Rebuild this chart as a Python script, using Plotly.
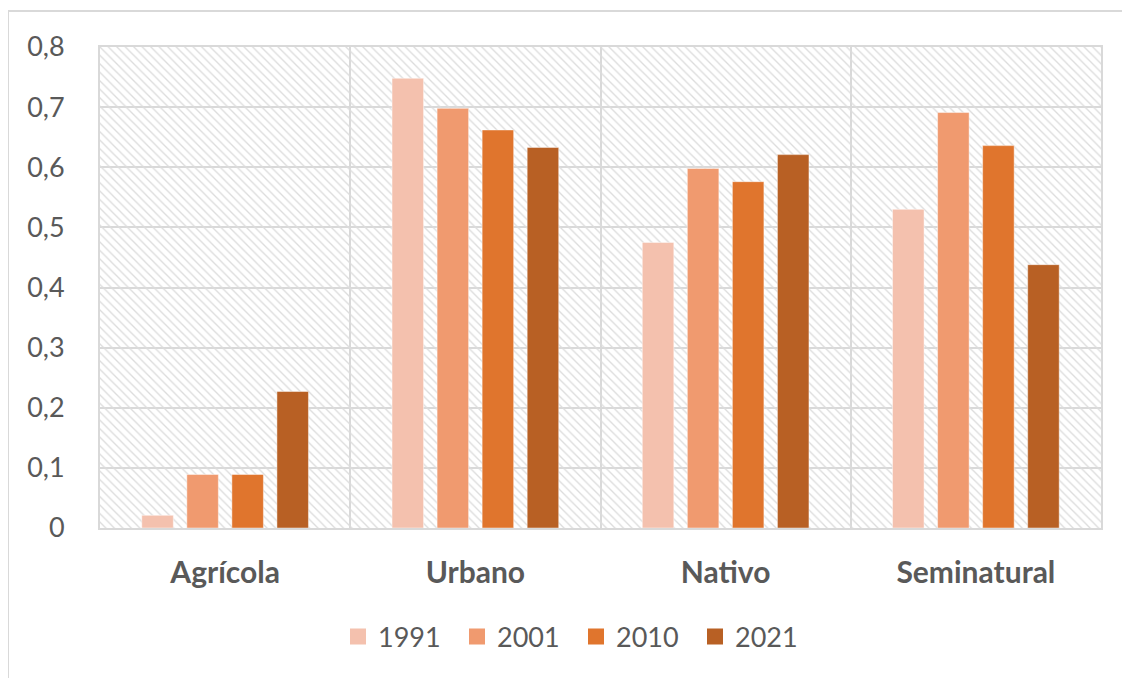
import plotly.graph_objects as go

categories = ["Agrícola", "Urbano", "Nativo", "Seminatural"]
years = ["1991", "2001", "2010", "2021"]
values_1991 = [0.021, 0.748, 0.475, 0.530]
values_2001 = [0.089, 0.698, 0.598, 0.691]
values_2010 = [0.089, 0.662, 0.576, 0.636]
values_2021 = [0.227, 0.633, 0.621, 0.438]
series = [values_1991, values_2001, values_2010, values_2021]
colors = ["#F4C1AE", "#F09A6F", "#E0752D", "#B86024"]

tick_vals = [0, 0.1, 0.2, 0.3, 0.4, 0.5, 0.6, 0.7, 0.8]
tick_text = ["0", "0,1", "0,2", "0,3", "0,4", "0,5", "0,6", "0,7", "0,8"]

# the page body has an 8px margin, so the figure is drawn 8px smaller
OFF = 8
W, H = 1130 - OFF, 678 - OFF
ML, MR, MT, MB = 100 - OFF, 29, 47 - OFF, 150
PW, PH = W - ML - MR, H - MT - MB
TXT = "#595959"
GRID = "#d9d9d9"
FONT = "Lato"

fig = go.Figure()

# hatched plot background on the main (numeric) subplot
n = len(categories)
fig.add_trace(go.Bar(
    x=[n / 2], y=[tick_vals[-1]], width=[n], xaxis="x", yaxis="y",
    marker=dict(color="#dcdcdc", line=dict(width=0),
                pattern=dict(shape="\\", size=6, solidity=0.22, fillmode="replace")),
    showlegend=False, hoverinfo="skip",
))

for yr, vals, col in zip(years, series, colors):
    fig.add_trace(go.Bar(
        x=categories, y=vals, name=yr, xaxis="x2", yaxis="y2",
        marker=dict(color=col, line=dict(color="rgba(255,255,255,0.45)", width=1)),
        showlegend=False,
    ))
    fig.add_trace(go.Scatter(
        x=[None], y=[None], name=yr, mode="markers", xaxis="x2", yaxis="y2",
        marker=dict(symbol="square", size=16, color=col),
    ))

def px_x(p):
    # p: page pixel
    return (p - OFF - ML) / PW

def px_y(p):
    return (H - MB - (p - OFF)) / PH

fig.update_layout(
    width=W, height=H,
    margin=dict(l=ML, r=MR, t=MT, b=MB),
    paper_bgcolor="white", plot_bgcolor="white",
    bargap=0.28, bargroupgap=0.3, barmode="group",
    font=dict(family=FONT, color=TXT),
    xaxis=dict(range=[0, n], dtick=1, tick0=0, showgrid=True, gridcolor=GRID, gridwidth=2,
               showticklabels=False, showline=True, linecolor=GRID, linewidth=2, mirror=True,
               zeroline=False, ticks="", fixedrange=True),
    yaxis=dict(range=[0, tick_vals[-1]], tickvals=tick_vals, ticktext=tick_text,
               showgrid=True, gridcolor=GRID, gridwidth=2, showline=True, linecolor=GRID,
               linewidth=2, mirror=True, zeroline=False, ticks="", ticklabelstandoff=28,
               tickfont=dict(family=FONT, size=27, color=TXT)),
    xaxis2=dict(overlaying="x", anchor="y2", side="bottom", type="category",
                categoryorder="array", categoryarray=categories, range=[-0.5, n - 0.5],
                showgrid=False, showline=False, zeroline=False, ticks="",
                ticklabelstandoff=24,
                tickfont=dict(family=FONT, size=30, color=TXT, weight="bold")),
    yaxis2=dict(overlaying="y", anchor="x2", range=[0, tick_vals[-1]], visible=False),
    legend=dict(orientation="h", x=px_x(576), y=px_y(637), xanchor="center", yanchor="middle",
                font=dict(family=FONT, size=27, color=TXT), itemwidth=30,
                entrywidth=74, entrywidthmode="pixels", bgcolor="rgba(0,0,0,0)"),
    shapes=[
        dict(type="line", xref="paper", yref="paper", x0=px_x(8), x1=px_x(8),
             y0=px_y(11), y1=px_y(700), line=dict(color=GRID, width=2)),
        dict(type="line", xref="paper", yref="paper", x0=px_x(8), x1=px_x(1150),
             y0=px_y(11), y1=px_y(11), line=dict(color=GRID, width=2)),
    ],
)

fig.write_html("out.html")
